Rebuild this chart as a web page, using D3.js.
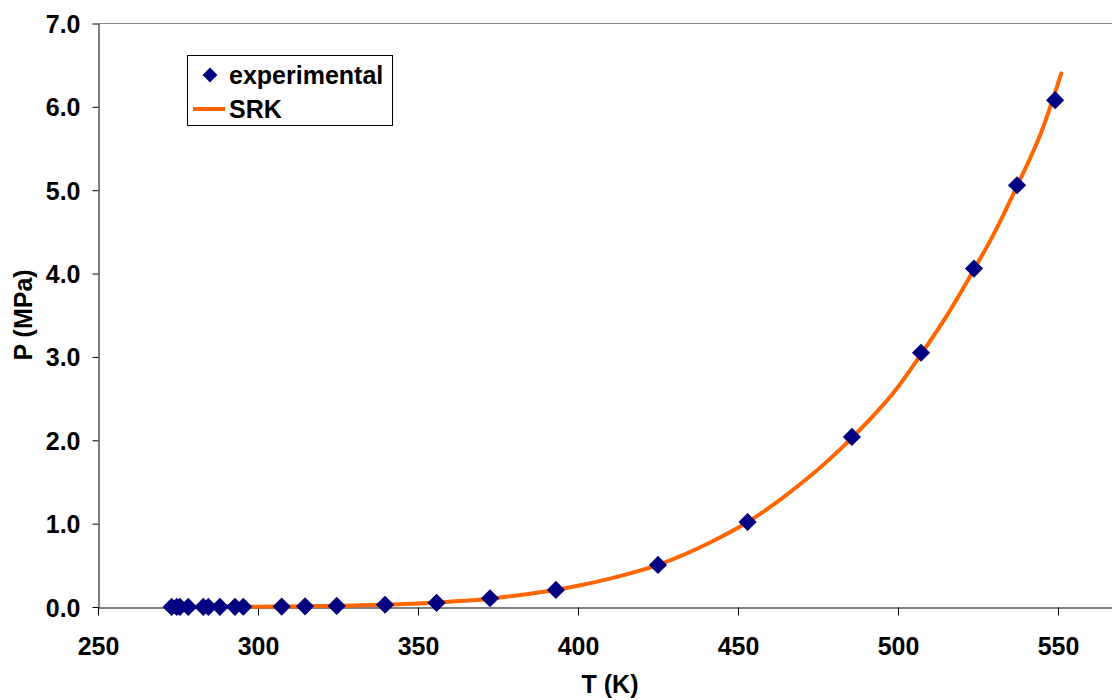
<!DOCTYPE html>
<html>
<head>
<meta charset="utf-8">
<script src="https://cdn.jsdelivr.net/npm/d3@7"></script>
<style>
  html, body { margin: 0; padding: 0; background: #fff; }
  text { font-family: "Liberation Sans", Arial, sans-serif; font-weight: bold; fill: #000; }
</style>
</head>
<body>
<svg id="chart" width="1112" height="700"></svg>
<script>
// ---- data ----
const expT = [273.0, 274.6, 275.6, 278.2, 282.9, 284.5, 288.1, 292.8, 295.4, 307.4, 314.7, 324.6, 339.7, 355.8, 372.5, 393.1, 425.0, 453.0, 485.6, 507.2, 523.75, 537.2, 549.1];
const expP = [0.0006, 0.0007, 0.0007, 0.0009, 0.0012, 0.0014, 0.0017, 0.0023, 0.0027, 0.0054, 0.0082, 0.0130, 0.0270, 0.050, 0.105, 0.205, 0.505, 1.02, 2.04, 3.05, 4.06, 5.06, 6.08];
const srkT = [290, 300, 310, 320, 330, 340, 350, 360, 372.5, 380, 393, 400, 410, 425, 440, 453, 470, 485.6, 500, 507.2, 515, 523.75, 530, 537.2, 545, 551];
const srkP = [0.002, 0.0037, 0.0065, 0.011, 0.018, 0.028, 0.043, 0.064, 0.10, 0.135, 0.205, 0.255, 0.34, 0.505, 0.75, 1.02, 1.49, 2.03, 2.64, 3.03, 3.48, 4.05, 4.48, 5.05, 5.72, 6.40];
const xTicks = [250, 300, 350, 400, 450, 500, 550];
const yTicks = [0, 1, 2, 3, 4, 5, 6, 7];
const xTitle = "T (K)";
const yTitle = "P (MPa)";
const legendLabels = ["experimental", "SRK"];

// ---- layout ----
const svg = d3.select("#chart");
const x = d3.scaleLinear().domain([250, 567]).range([98, 1112.4]);
const y = d3.scaleLinear().domain([0, 7]).range([607, 23.5]);
const orange = "#FF6600", navy = "#000080";
const fs = 25;

// top border
svg.append("line").attr("x1", 98).attr("x2", 1112).attr("y1", 23.5).attr("y2", 23.5)
  .attr("stroke", "#888").attr("stroke-width", 1);

// axes
const xAxis = svg.append("g").attr("transform", "translate(0,607.5)")
  .call(d3.axisBottom(x).tickValues(xTicks).tickSize(8).tickSizeOuter(0).tickFormat(d3.format("d")));
xAxis.select(".domain").attr("stroke", "#000");
xAxis.selectAll(".tick line").attr("stroke", "#000");
xAxis.selectAll(".tick text").attr("font-size", fs).attr("y", 0).attr("dy", "47px")
  .attr("font-family", "Liberation Sans, Arial, sans-serif").attr("font-weight", "bold");

const yAxis = svg.append("g").attr("transform", "translate(98.5,0)")
  .call(d3.axisLeft(y).tickValues(yTicks).tickSize(6).tickSizeOuter(0).tickFormat(d3.format(".1f")));
yAxis.select(".domain").attr("stroke", "#000");
yAxis.selectAll(".tick line").attr("stroke", "#000");
yAxis.selectAll(".tick text").attr("font-size", fs).attr("x", -18).attr("dy", "0.36em")
  .attr("font-family", "Liberation Sans, Arial, sans-serif").attr("font-weight", "bold");

// titles
svg.append("text").attr("x", 610).attr("y", 693).attr("text-anchor", "middle")
  .attr("font-size", fs).text(xTitle);
svg.append("text").attr("transform", "translate(32,315) rotate(-90)").attr("text-anchor", "middle")
  .attr("font-size", fs).text(yTitle);

// SRK line
const srk = srkT.map((t, i) => [t, srkP[i]]);
svg.append("path").datum(srk)
  .attr("d", d3.line().x(d => x(d[0])).y(d => y(d[1])).curve(d3.curveMonotoneX))
  .attr("fill", "none").attr("stroke", orange).attr("stroke-width", 4).attr("stroke-linecap", "round");

// experimental diamonds
const diamond = d3.symbol().type(d3.symbolSquare).size(165);
const exp = expT.map((t, i) => [t, expP[i]]);
svg.append("g").selectAll("path").data(exp).join("path")
  .attr("d", diamond)
  .attr("transform", d => `translate(${x(d[0])},${y(d[1])}) rotate(45)`)
  .attr("fill", navy);

// legend
const lg = svg.append("g");
lg.append("rect").attr("x", 187.5).attr("y", 55.5).attr("width", 205).attr("height", 70)
  .attr("fill", "#fff").attr("stroke", "#000").attr("stroke-width", 1);
lg.append("path").attr("d", d3.symbol().type(d3.symbolSquare).size(110))
  .attr("transform", "translate(210,75) rotate(45)").attr("fill", navy);
lg.append("text").attr("x", 229).attr("y", 84).attr("font-size", fs).text(legendLabels[0]);
lg.append("line").attr("x1", 193).attr("x2", 225).attr("y1", 109).attr("y2", 109)
  .attr("stroke", orange).attr("stroke-width", 4);
lg.append("text").attr("x", 229).attr("y", 118).attr("font-size", fs).text(legendLabels[1]);
</script>
</body>
</html>
